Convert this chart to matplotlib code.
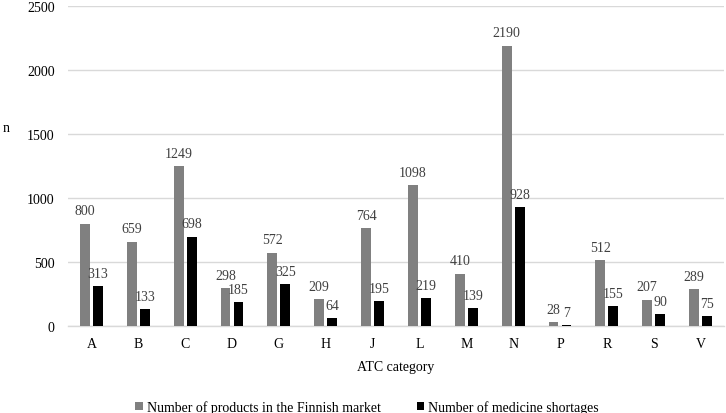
import matplotlib
matplotlib.use("Agg")
import matplotlib.pyplot as plt
import numpy as np

categories = ["A", "B", "C", "D", "G", "H", "J", "L", "M", "N", "P", "R", "S", "V"]
products = [800, 659, 1249, 298, 572, 209, 764, 1098, 410, 2190, 28, 512, 207, 289]
shortages = [313, 133, 698, 185, 325, 64, 195, 219, 139, 928, 7, 155, 90, 75]
series_names = ["Number of products in the Finnish market", "Number of medicine shortages"]
yticks = [0, 500, 1000, 1500, 2000, 2500]

serif = ["Liberation Serif", "DejaVu Serif"]

fig = plt.figure(figsize=(7.26, 4.14), dpi=100)
ax = fig.add_axes([68/726, 1-327/414, 656/726, 320/414])

x = np.arange(len(categories))
w = 0.21
off = 0.14
b1 = ax.bar(x - off, products, w, color="#808080", label=series_names[0], zorder=3)
b2 = ax.bar(x + off, shortages, w, color="#000000", label=series_names[1], zorder=3)

for bars, vals in ((b1, products), (b2, shortages)):
    for r, v in zip(bars, vals):
        ax.annotate(str(v), (r.get_x() + r.get_width()/2, v), xytext=(0, 6.7),
                    textcoords="offset points", ha="center", va="baseline",
                    fontsize=10, family=serif, color="#404040", zorder=4)

ax.set_xlim(-0.5, len(categories) - 0.5)
ax.set_ylim(0, 2500)
ax.set_yticks(yticks)
ax.set_yticklabels([str(t) for t in yticks], family=serif, fontsize=10)
ax.set_xticks(x)
ax.set_xticklabels(categories, family=serif, fontsize=10)
ax.tick_params(axis="x", length=0, pad=8)
ax.tick_params(axis="y", length=0, pad=9.5)
ax.grid(axis="y", color="#d9d9d9", linewidth=1, zorder=0)
for s in ("top", "right", "left"):
    ax.spines[s].set_visible(False)
ax.spines["bottom"].set_color("#d9d9d9")
ax.spines["bottom"].set_linewidth(1)

ax.set_xlabel("ATC category", family=serif, fontsize=10, labelpad=7)
fig.text(3/726, 1-128/414, "n", family=serif, fontsize=10, ha="left", va="center")

leg = fig.legend(handles=[b1, b2], labels=series_names, loc="center",
                 bbox_to_anchor=(367/726, 1-408/414), ncol=2, frameon=False,
                 prop={"family": serif, "size": 10}, handlelength=0.55,
                 handleheight=0.55, handletextpad=0.3, columnspacing=2.6)

fig.savefig("out.png", dpi=100)
